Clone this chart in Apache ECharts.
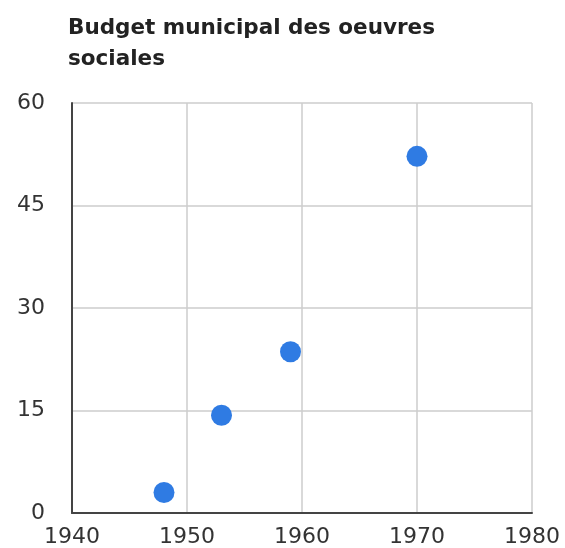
<!DOCTYPE html>
<html><head><meta charset="utf-8">
<script src="https://cdn.jsdelivr.net/npm/echarts@6/dist/echarts.min.js"></script>
<style>html,body{margin:0;padding:0;background:#fff}#c{width:565px;height:548px}</style>
</head><body><div id="c"></div>
<script>
const titleText = "Budget municipal des oeuvres\nsociales";
const years = [1948, 1953, 1959, 1970];
const budget = [3, 14.3, 23.6, 52.2];
const xTicks = [1940, 1950, 1960, 1970, 1980];
const yTicks = [0, 15, 30, 45, 60];

const FONT = 'DejaVu Sans, sans-serif';
const chart = echarts.init(document.getElementById('c'));
chart.setOption({
  animation: false,
  backgroundColor: '#fff',
  title: {
    text: titleText, left: 63, top: 8,
    textStyle: {fontFamily: FONT, fontSize: 21.5, fontWeight: 'bold', color: '#222', lineHeight: 31}
  },
  grid: {left: 72, right: 33, top: 103, bottom: 35, outerBoundsMode: 'none', containLabel: false},
  xAxis: {
    type: 'value', min: xTicks[0], max: xTicks[xTicks.length-1], interval: 10,
    axisLine: {show: true, onZero: false, lineStyle: {color: '#444', width: 2}},
    axisTick: {show: false},
    splitLine: {show: true, lineStyle: {color: '#ccc', width: 1.5}},
    axisLabel: {color: '#333', fontSize: 22, fontFamily: FONT, margin: 13, showMaxLabel: true, showMinLabel: true,
      formatter: v => String(v)}
  },
  yAxis: {
    type: 'value', min: yTicks[0], max: yTicks[yTicks.length-1], interval: 15,
    axisLine: {show: true, lineStyle: {color: '#444', width: 2}},
    axisTick: {show: false},
    splitLine: {show: true, lineStyle: {color: '#ccc', width: 1.5}},
    axisLabel: {color: '#333', fontSize: 22, fontFamily: FONT, margin: 27}
  },
  series: [{
    type: 'scatter',
    data: years.map((y, i) => [y, budget[i]]),
    symbolSize: 21,
    itemStyle: {color: '#2f7be3', opacity: 1}
  }]
});
</script></body></html>
